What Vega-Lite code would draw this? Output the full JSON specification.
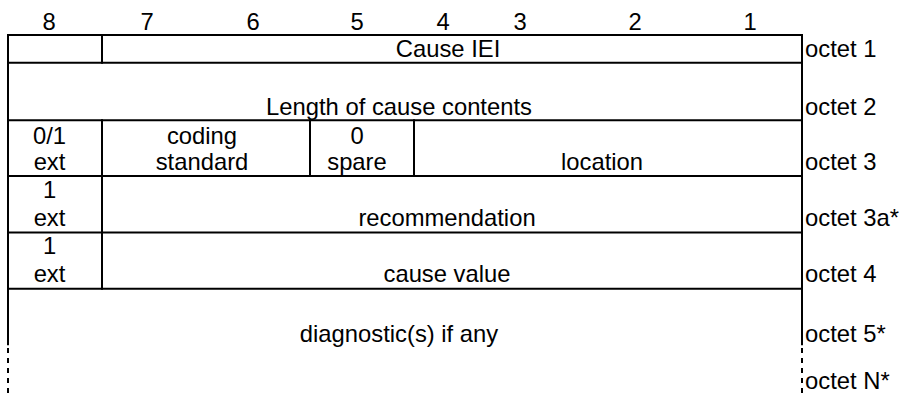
{
  "$schema": "https://vega.github.io/schema/vega-lite/v6.json",
  "width": 901,
  "height": 398,
  "autosize": {"type": "fit", "contains": "padding"},
  "padding": 0,
  "background": "white",
  "config": {"view": {"stroke": null}},
  "datasets": {
    "solid": [
      {"x": 8, "x2": 802, "y": 35, "y2": 35},
      {"x": 8, "x2": 802, "y": 63, "y2": 63},
      {"x": 8, "x2": 802, "y": 120.5, "y2": 120.5},
      {"x": 8, "x2": 802, "y": 176.5, "y2": 176.5},
      {"x": 8, "x2": 802, "y": 233, "y2": 233},
      {"x": 8, "x2": 802, "y": 289.5, "y2": 289.5},
      {"x": 8, "x2": 8, "y": 35, "y2": 345},
      {"x": 802, "x2": 802, "y": 35, "y2": 345},
      {"x": 102, "x2": 102, "y": 35, "y2": 63},
      {"x": 102, "x2": 102, "y": 120.5, "y2": 289.5},
      {"x": 310, "x2": 310, "y": 120.5, "y2": 176.5},
      {"x": 414, "x2": 414, "y": 120.5, "y2": 176.5}
    ],
    "dashed": [
      {"x": 8, "x2": 8, "y": 349, "y2": 398},
      {"x": 802, "x2": 802, "y": 349, "y2": 398}
    ],
    "cells": [
      {"label": "8", "x": 49, "y": 30},
      {"label": "7", "x": 147, "y": 30},
      {"label": "6", "x": 253, "y": 30},
      {"label": "5", "x": 357, "y": 30},
      {"label": "4", "x": 443, "y": 30},
      {"label": "3", "x": 520, "y": 30},
      {"label": "2", "x": 635, "y": 30},
      {"label": "1", "x": 750, "y": 30},
      {"label": "Cause IEI", "x": 448, "y": 57},
      {"label": "Length of cause contents", "x": 399, "y": 115},
      {"label": "0/1", "x": 49.5, "y": 144},
      {"label": "ext", "x": 49.5, "y": 170},
      {"label": "coding", "x": 202, "y": 144},
      {"label": "standard", "x": 202, "y": 170},
      {"label": "0", "x": 357, "y": 144},
      {"label": "spare", "x": 357, "y": 170},
      {"label": "location", "x": 602, "y": 170},
      {"label": "1", "x": 49.5, "y": 198},
      {"label": "ext", "x": 49.5, "y": 226.5},
      {"label": "recommendation", "x": 447, "y": 226.5},
      {"label": "1", "x": 49.5, "y": 255},
      {"label": "ext", "x": 49.5, "y": 283},
      {"label": "cause value", "x": 447, "y": 283},
      {"label": "diagnostic(s) if any", "x": 399, "y": 343}
    ],
    "octets": [
      {"label": "octet 1", "x": 805, "y": 57},
      {"label": "octet 2", "x": 805, "y": 115},
      {"label": "octet 3", "x": 805, "y": 170},
      {"label": "octet 3a*", "x": 805, "y": 226.5},
      {"label": "octet 4", "x": 805, "y": 283},
      {"label": "octet 5*", "x": 805, "y": 343},
      {"label": "octet N*", "x": 805, "y": 390}
    ]
  },
  "encoding": {
    "x": {"field": "x", "type": "quantitative", "scale": {"domain": [0, 901], "nice": false, "zero": false}, "axis": null},
    "y": {"field": "y", "type": "quantitative", "scale": {"domain": [0, 398], "nice": false, "zero": false, "reverse": true}, "axis": null}
  },
  "layer": [
    {
      "data": {"name": "solid"},
      "mark": {"type": "rule", "color": "black", "strokeWidth": 2, "strokeCap": "square"},
      "encoding": {"x2": {"field": "x2"}, "y2": {"field": "y2"}}
    },
    {
      "data": {"name": "dashed"},
      "mark": {"type": "rule", "color": "black", "strokeWidth": 2, "strokeDash": [5, 5]},
      "encoding": {"x2": {"field": "x2"}, "y2": {"field": "y2"}}
    },
    {
      "data": {"name": "cells"},
      "mark": {"type": "text", "font": "Liberation Sans", "fontSize": 23.8, "color": "black", "align": "center", "baseline": "alphabetic"},
      "encoding": {"text": {"field": "label"}}
    },
    {
      "data": {"name": "octets"},
      "mark": {"type": "text", "font": "Liberation Sans", "fontSize": 23.8, "color": "black", "align": "left", "baseline": "alphabetic"},
      "encoding": {"text": {"field": "label"}}
    }
  ]
}
